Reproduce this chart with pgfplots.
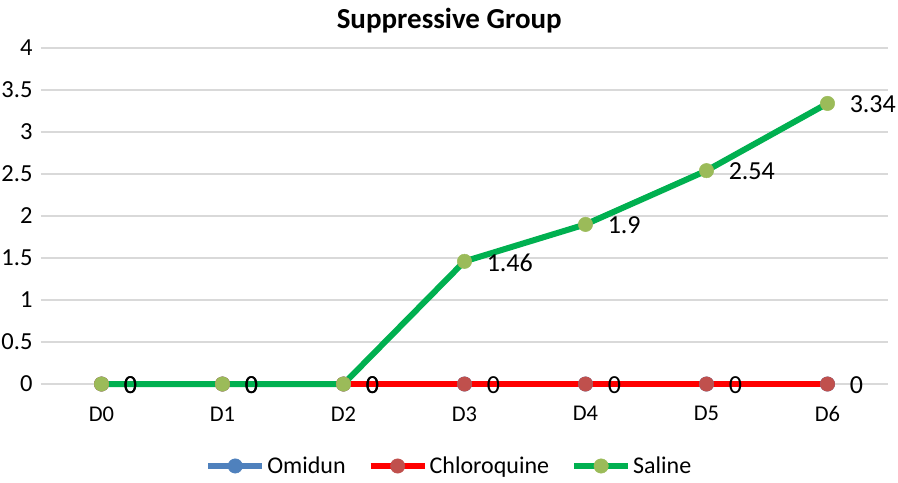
\documentclass[border=0pt]{standalone}
\usepackage{fontspec}
\setmainfont{Carlito}
\usepackage{pgfplots}
\pgfplotsset{compat=1.18}
\definecolor{omi}{HTML}{4F81BD}
\definecolor{chl}{HTML}{FF0000}
\definecolor{chlm}{HTML}{C0504D}
\definecolor{sal}{HTML}{00B050}
\definecolor{salm}{HTML}{9BBB59}
\definecolor{gridgray}{HTML}{D9D9D9}
\begin{document}
\begin{tikzpicture}
\begin{axis}[name=ax, scale only axis, width=847pt, height=336pt,
  xmin=-0.5, xmax=6.5, ymin=0, ymax=4,
  ytick={0,0.5,1,1.5,2,2.5,3,3.5,4},
  xtick={0,1,2,3,4,5,6}, xticklabels={D0,D1,D2,D3,D4,D5,D6},
  ymajorgrids, grid style={draw=gridgray, line width=1.3pt},
  axis line style={draw=none}, major tick length=0pt,
  /pgf/number format/assume math mode=true,
  yticklabel style={xshift=-5pt, font=\fontsize{24.5}{28}\selectfont},
  xticklabel style={yshift=-19pt, font=\fontsize{22.5}{26}\selectfont},
  clip=false,
  legend columns=3,
  legend style={draw=none, at={(0.482,-0.244)}, anchor=center,
    font=\fontsize{24}{28}\selectfont,
    /tikz/every even column/.append style={column sep=20pt}},
  legend image code/.code={\draw[mark repeat=2,mark phase=2,#1] plot coordinates {(0pt,0pt) (27pt,0pt) (54pt,0pt)};},
  every node near coord/.append style={anchor=west, xshift=22pt, yshift=-1pt, inner sep=0pt, font=\fontsize{26}{30}\selectfont, text=black},
]
\addplot[omi, line width=6pt, mark=*, mark size=7.2pt, mark options={draw=omi, fill=omi, line width=0.5pt}]
  coordinates {(0,0) (1,0) (2,0) (3,0) (4,0) (5,0) (6,0)};
\addlegendentry{Omidun}
\addplot[chl, line width=6pt, mark=*, mark size=7.2pt, mark options={draw=chlm, fill=chlm, line width=0.5pt},
  nodes near coords]
  coordinates {(0,0) (1,0) (2,0) (3,0) (4,0) (5,0) (6,0)};
\addlegendentry{Chloroquine}
\addplot[sal, line width=6pt, mark=*, mark size=7.2pt, mark options={draw=salm, fill=salm, line width=0.5pt},
  nodes near coords]
  coordinates {(0,0) (1,0) (2,0) (3,1.46) (4,1.9) (5,2.54) (6,3.34)};
\addlegendentry{Saline}
\node[font=\bfseries\fontsize{29}{33}\selectfont] at (rel axis cs:0.482,1.083) {Suppressive Group};
\end{axis}
\pgfresetboundingbox
\path[use as bounding box] ([xshift=-41pt,yshift=-98pt]ax.south west) rectangle ([xshift=10pt,yshift=48pt]ax.north east);
\end{tikzpicture}
\end{document}
